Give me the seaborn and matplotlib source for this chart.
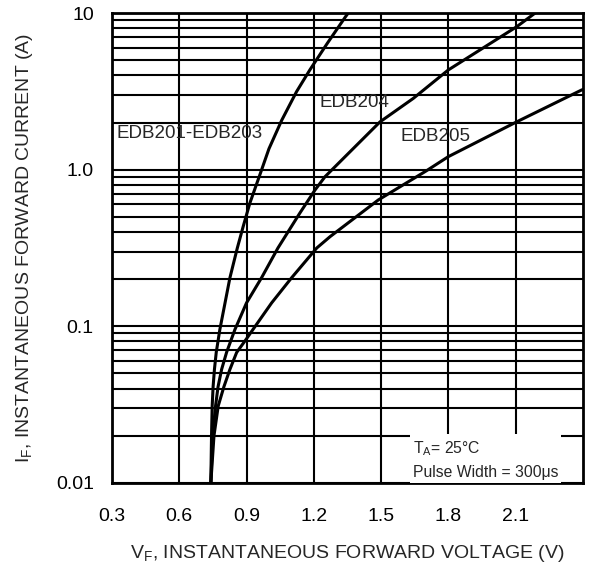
import matplotlib
matplotlib.use("Agg")
import matplotlib.pyplot as plt
import seaborn as sns
import pandas as pd

# forward voltage (V) vs forward current (A)
edb201_v = [0.741, 0.744, 0.747, 0.751, 0.757, 0.765, 0.781, 0.826, 0.859, 0.885, 0.915,
            0.967, 1.000, 1.057, 1.123, 1.182, 1.260, 1.341, 1.353]
edb201_i = [0.010, 0.020, 0.031, 0.041, 0.053, 0.068, 0.095, 0.204, 0.316, 0.433, 0.612,
            0.995, 1.36, 2.07, 3.15, 4.33, 6.41, 9.47, 10.0]

edb204_v = [0.741, 0.749, 0.762, 0.773, 0.789, 0.811, 0.848, 0.900, 0.967, 1.040, 1.138,
            1.205, 1.250, 1.495, 1.643, 1.799, 2.104, 2.186]
edb204_i = [0.010, 0.020, 0.031, 0.041, 0.053, 0.068, 0.095, 0.141, 0.204, 0.316, 0.529,
            0.741, 0.902, 2.02, 2.85, 4.33, 8.18, 10.0]

edb205_v = [0.741, 0.755, 0.774, 0.799, 0.826, 0.856, 0.897, 0.928, 1.012, 1.101, 1.213,
            1.272, 1.487, 1.700, 1.799, 2.104, 2.394, 2.400]
edb205_i = [0.010, 0.020, 0.031, 0.041, 0.053, 0.068, 0.082, 0.095, 0.141, 0.204, 0.316,
            0.373, 0.640, 0.980, 1.21, 2.02, 3.23, 3.25]

x_ticks = [0.3, 0.6, 0.9, 1.2, 1.5, 1.8, 2.1]
y_ticks = [0.01, 0.1, 1.0, 10]
y_ticklabels = ["0.01", "0.1", "1.0", "10"]

df = pd.concat([
    pd.DataFrame({"V": edb201_v, "I": edb201_i, "part": "EDB201-EDB203"}),
    pd.DataFrame({"V": edb204_v, "I": edb204_i, "part": "EDB204"}),
    pd.DataFrame({"V": edb205_v, "I": edb205_i, "part": "EDB205"}),
])

sns.set_style("white")
plt.rcParams['font.family'] = ['Liberation Sans', 'DejaVu Sans']
plt.rcParams['mathtext.default'] = 'regular'

fig = plt.figure(figsize=(5.92, 5.68), dpi=100)
ax = fig.add_axes([0.189, 0.150, 0.796, 0.827])

sns.lineplot(data=df, x="V", y="I", hue="part", estimator=None, sort=False,
             palette=["black", "black", "black"], linewidth=2.2, legend=False, ax=ax)

ax.set_yscale("log")
ax.set_xlim(0.3, 2.4)
ax.set_ylim(0.01, 10)

ax.set_xticks(x_ticks)
ax.set_xticklabels([f"{t:.1f}" for t in x_ticks])
ax.set_yticks(y_ticks)
ax.set_yticklabels(y_ticklabels)
ax.tick_params(axis="both", which="both", length=0, labelsize=14, colors="black")
ax.tick_params(axis="x", pad=18)
ax.tick_params(axis="y", pad=13)

# dense black grid like the datasheet
ax.grid(True, which="major", axis="both", color="black", linewidth=1.5)
ax.grid(True, which="minor", axis="y", color="black", linewidth=1.5)
ax.set_axisbelow(True)
for s in ax.spines.values():
    s.set_visible(True)
    s.set_color("black")
    s.set_linewidth(2)

ax.set_xlabel("V$_{F}$, INSTANTANEOUS FORWARD VOLTAGE (V)", fontsize=14, labelpad=13)
ax.set_ylabel("I$_{F}$, INSTANTANEOUS FORWARD CURRENT (A)", fontsize=14, labelpad=15)

ax.text(0.322, 1.71, "EDB201-EDB203", fontsize=13.5, va="center")
ax.text(1.227, 2.70, "EDB204", fontsize=13.5, va="center")
ax.text(1.584, 1.64, "EDB205", fontsize=13.5, va="center")
ax.text(1.642, 0.0141, "T$_{A}$= 25°C\nPulse Width = 300μs", fontsize=11.3, va="center",
        linespacing=1.6, bbox=dict(facecolor="white", edgecolor="none", pad=2))

plt.savefig("out.png", dpi=100)
plt.close()
